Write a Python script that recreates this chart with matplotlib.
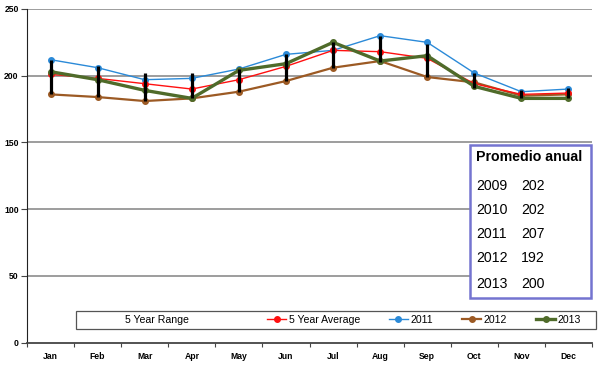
import matplotlib
matplotlib.use("Agg")
import matplotlib.pyplot as plt
from matplotlib.lines import Line2D
from matplotlib.patches import Rectangle
import numpy as np

months = ["Jan", "Feb", "Mar", "Apr", "May", "Jun", "Jul", "Aug", "Sep", "Oct", "Nov", "Dec"]
range_max = [212, 207, 202, 202, 205, 216, 225, 230, 224, 202, 189, 191]
range_min = [186, 184, 181, 183, 188, 196, 206, 210, 199, 191, 183, 183]
avg_5yr = [201, 198, 194, 190, 197, 207, 219, 218, 213, 194, 186, 187]
y2011 = [212, 206, 197, 198, 205, 216, 219, 230, 225, 202, 188, 190]
y2012 = [186, 184, 181, 183, 188, 196, 206, 211, 199, 195, 185, 186]
y2013 = [203, 197, 189, 183, 204, 209, 225, 211, 215, 192, 183, 183]
yticks = [0, 50, 100, 150, 200, 250]
annual_years = ["2009", "2010", "2011", "2012", "2013"]
annual_values = ["202", "202", "207", "192", "200"]

plt.rcParams['font.family'] = ['Liberation Sans', 'DejaVu Sans']

fig = plt.figure(figsize=(6.0, 3.67), dpi=100)
ax = fig.add_axes([27/600, 1 - 342.5/367, (592-27)/600, (342.5-9)/367])

x = np.arange(len(months))
ax.set_xlim(-0.5, len(months) - 0.5)
ax.set_ylim(0, 250)

for yv in yticks[1:]:
    ax.axhline(yv, color="#8c8c8c", lw=1.2, zorder=0)

ax.plot(x, y2012, color="#9c5a24", lw=1.6, marker="o", ms=4, zorder=2)
ax.plot(x, y2011, color="#2b8ad8", lw=1.0, marker="o", ms=4, zorder=2)
ax.plot(x, avg_5yr, color="#ff1010", lw=1.0, marker="o", ms=4, zorder=2)
ax.plot(x, y2013, color="#4f6b2a", lw=2.4, marker="o", ms=4, zorder=2)
ax.vlines(x, range_min, range_max, color="black", lw=2.3, zorder=3)

ax.set_xticks(np.arange(-0.5, len(months)), minor=False)
ax.set_xticklabels([])
ax.set_xticks(x, minor=True)
ax.set_xticklabels(months, minor=True, fontsize=6.2, fontweight="bold")
ax.tick_params(axis="x", which="minor", length=0, pad=7)
ax.tick_params(axis="x", which="major", length=3, width=0.8, color="#444444")
ax.set_yticks(yticks)
ax.set_yticklabels([str(v) for v in yticks], fontsize=6.2, fontweight="bold")
ax.tick_params(axis="y", length=4, width=0.8, pad=2, color="#444444")

ax.spines["top"].set_visible(False)
ax.spines["right"].set_visible(False)
ax.spines["left"].set_color("#222222")
ax.spines["bottom"].set_color("#444444")
ax.spines["bottom"].set_linewidth(1.3)

# legend box
fig.patches.append(Rectangle((76/600, 1 - 329/367), (596-76)/600, 18/367,
                             transform=fig.transFigure, fill=True, facecolor="white",
                             edgecolor="#555555", lw=0.9, zorder=5))
fig.text(125/600, 1 - 320/367, "5 Year Range", fontsize=7.6, va="center", ha="left", zorder=6)
handles = [
    Line2D([], [], color="#ff1010", lw=1.0, marker="o", ms=4),
    Line2D([], [], color="#2b8ad8", lw=1.0, marker="o", ms=4),
    Line2D([], [], color="#9c5a24", lw=1.6, marker="o", ms=4),
    Line2D([], [], color="#4f6b2a", lw=2.4, marker="o", ms=4),
]
labels = ["5 Year Average", "2011", "2012", "2013"]
leg = fig.legend(handles, labels, loc="center left", bbox_to_anchor=(267/600, 1 - 320/367),
                 ncol=4, frameon=False, fontsize=7.6, handlelength=1.8,
                 handletextpad=0.25, columnspacing=2.75, borderpad=0, borderaxespad=0)
leg.set_zorder(6)

# annual average box
fig.patches.append(Rectangle((470/600, 1 - 298/367), (591-470)/600, (298-144.5)/367,
                             transform=fig.transFigure, facecolor="white",
                             edgecolor="#7474d0", lw=1.8, zorder=5))
fig.text(476/600, 1 - 157/367, "Promedio anual", fontsize=10.2, fontweight="bold",
         va="center", ha="left", zorder=6)
row_y = [185.5, 209.5, 234, 258.5, 283.5]
for yr, val, yy in zip(annual_years, annual_values, row_y):
    fig.text(476/600, 1 - yy/367, yr, fontsize=10.2, va="center", ha="left", zorder=6)
    fig.text(521/600, 1 - yy/367, val, fontsize=10.2, va="center", ha="left", zorder=6)

fig.savefig("out.png", dpi=100)
